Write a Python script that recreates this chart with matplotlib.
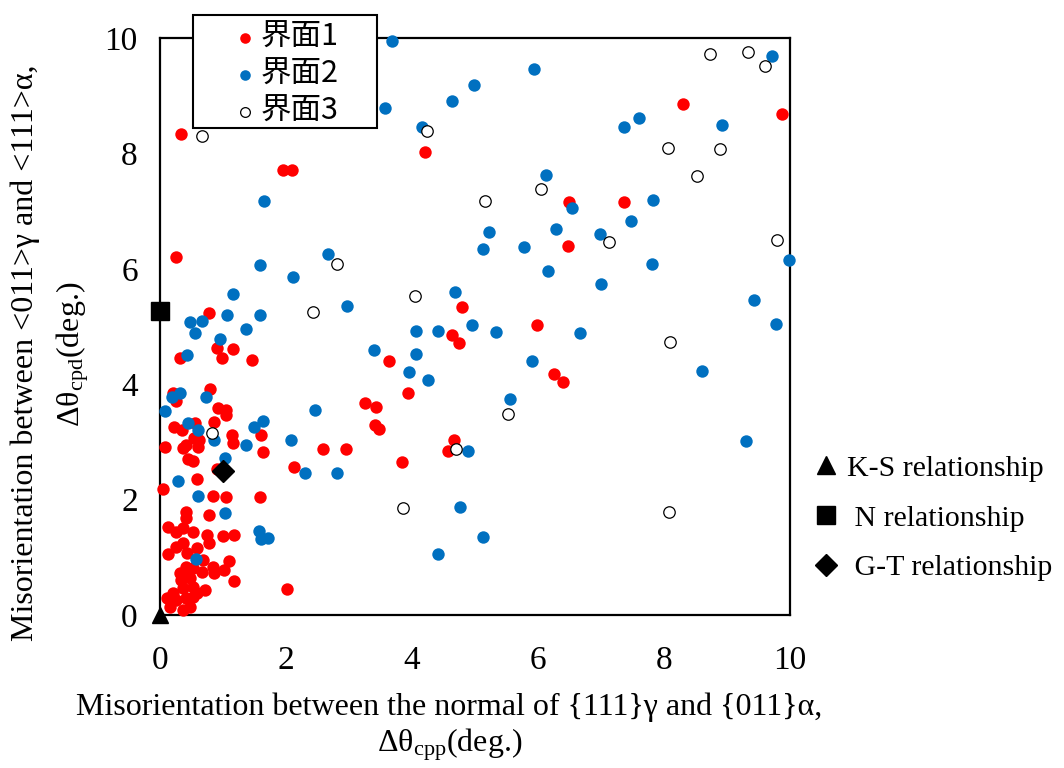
import matplotlib.pyplot as plt
import numpy as np
from matplotlib.lines import Line2D
from matplotlib.patches import Rectangle

plt.rcParams['font.family'] = ['Liberation Serif', 'DejaVu Serif']
plt.rcParams['mathtext.fontset'] = 'custom'
plt.rcParams['mathtext.rm'] = 'Liberation Serif'
plt.rcParams['mathtext.it'] = 'Liberation Serif:italic'

RED = '#FF0000'
BLUE = '#0070C0'
FS = 23

# interface 1 (x = dtheta_cpp, y = dtheta_cpd), degrees
if1_x = [0.34, 1.96, 2.09, 0.25, 0.77, 0.90, 1.16, 0.98, 1.46, 0.32,
         4.20, 8.30, 9.88, 6.49, 7.36, 6.47, 4.80,
         4.64, 4.75, 5.98, 3.63, 6.25, 6.40, 3.93, 3.25, 3.43, 3.41, 3.47, 2.58, 2.96, 4.67, 4.57, 3.84, 2.13,
         0.21, 0.25, 0.79, 0.92, 1.04, 1.05, 0.86, 0.56, 0.22, 0.35, 1.15, 1.16, 1.61, 1.64, 0.54, 0.62,
         0.61, 0.08, 0.37, 0.42, 0.44, 0.52, 0.90, 0.58, 0.04, 0.84, 1.05, 1.58, 0.77, 0.41, 0.41, 0.13,
         0.26, 0.37, 0.53, 0.74, 0.77, 1.00, 1.17, 0.13, 0.26, 0.37, 0.43, 0.58, 0.69, 0.84, 1.10, 1.02,
         0.85, 0.66, 0.53, 0.37, 0.34, 0.48, 1.17, 2.01, 0.71, 0.53, 0.37, 0.21, 0.11, 0.26, 0.42, 0.53,
         0.16, 0.37, 0.48, 0.58, 0.32, 0.42]
if1_y = [8.34, 7.71, 7.72, 6.20, 5.23, 4.62, 4.61, 4.45, 4.42, 4.45,
         8.03, 8.86, 8.68, 7.16, 7.15, 6.40, 5.34,
         4.86, 4.72, 5.02, 4.40, 4.17, 4.04, 3.85, 3.68, 3.60, 3.30, 3.22, 2.88, 2.88, 3.04, 2.85, 2.66, 2.57,
         3.85, 3.71, 3.91, 3.58, 3.55, 3.46, 3.35, 3.32, 3.25, 3.21, 3.12, 2.98, 3.12, 2.83, 3.06, 3.03,
         2.91, 2.91, 2.89, 2.95, 2.71, 2.67, 2.53, 2.35, 2.19, 2.06, 2.05, 2.04, 1.73, 1.79, 1.68, 1.53,
         1.44, 1.50, 1.43, 1.39, 1.25, 1.37, 1.39, 1.06, 1.18, 1.24, 1.07, 1.16, 0.95, 0.84, 0.94, 0.78,
         0.73, 0.75, 0.81, 0.72, 0.61, 0.64, 0.59, 0.45, 0.43, 0.49, 0.46, 0.38, 0.29, 0.26, 0.29, 0.32,
         0.14, 0.09, 0.14, 0.38, 0.72, 0.84]

# interface 2
if2_x = [3.68, 9.71, 5.94, 4.99, 4.64, 3.57, 7.60, 7.36, 8.92, 4.16, 6.12, 6.54, 7.82, 7.48, 5.22,
         6.29, 6.98, 5.13, 5.78, 7.81, 6.16, 7.00, 9.98, 4.69, 9.43,
         2.97, 9.78, 4.07, 4.42, 4.95, 5.33, 6.67, 3.40, 4.07, 3.96, 4.25, 5.90, 8.60, 5.55, 2.46,
         2.08, 4.89, 9.30, 2.30, 2.81, 4.76, 5.12, 4.41,
         1.65, 2.67, 1.58, 2.11, 1.16, 1.07, 1.59, 0.48, 0.66, 0.56, 1.37, 0.96, 0.43,
         0.19, 0.32, 0.73, 0.08, 0.45, 0.61, 0.86, 1.49, 1.63, 1.37, 1.03, 0.29, 0.61, 1.03, 1.57,
         1.60, 1.72, 0.57]
if2_y = [9.95, 9.69, 9.47, 9.18, 8.90, 8.78, 8.62, 8.46, 8.50, 8.45, 7.63, 7.06, 7.20, 6.82, 6.63,
         6.69, 6.60, 6.34, 6.38, 6.09, 5.96, 5.74, 6.15, 5.59, 5.46,
         5.35, 5.05, 4.93, 4.93, 5.03, 4.90, 4.88, 4.60, 4.53, 4.22, 4.07, 4.40, 4.23, 3.75, 3.55,
         3.04, 2.85, 3.01, 2.46, 2.46, 1.88, 1.35, 1.05,
         7.17, 6.26, 6.07, 5.85, 5.56, 5.20, 5.20, 5.08, 5.10, 4.89, 4.95, 4.79, 4.51,
         3.78, 3.84, 3.77, 3.53, 3.33, 3.21, 3.03, 3.25, 3.37, 2.94, 2.72, 2.33, 2.07, 1.76, 1.46,
         1.31, 1.33, 0.97]

# interface 3
if3_x = [8.73, 9.33, 9.61, 4.24, 8.07, 8.89, 8.52, 6.05, 5.16, 7.12, 9.80, 4.05, 0.67, 2.81,
         2.43, 8.09, 5.52, 4.70, 0.82, 3.86, 8.08]
if3_y = [9.73, 9.75, 9.52, 8.39, 8.09, 8.08, 7.61, 7.38, 7.17, 6.47, 6.50, 5.53, 8.30, 6.08,
         5.25, 4.73, 3.48, 2.87, 3.15, 1.85, 1.79]

# orientation relationships
or_names = ['K-S relationship', ' N relationship', ' G-T relationship']
or_markers = ['^', 's', 'D']
or_x = [0.0, 0.0, 1.0]
or_y = [0.0, 5.26, 2.5]
or_size = [12, 12.5, 11]

fig = plt.figure(figsize=(10.64, 7.68), dpi=100)
ax = fig.add_axes([160 / 1064, 1 - 615 / 768, 630 / 1064, 577 / 768])

s = 80
h1 = ax.scatter(if1_x, if1_y, s=s, color=RED, lw=0, clip_on=False, zorder=3, label='界面1')
h2 = ax.scatter(if2_x, if2_y, s=s, color=BLUE, lw=0, clip_on=False, zorder=3, label='界面2')
h3 = ax.scatter(if3_x, if3_y, s=s * 0.85, facecolor='white', edgecolor='black', lw=0.9,
                clip_on=False, zorder=3, label='界面3')
for x, y, m, ms in zip(or_x, or_y, or_markers, or_size):
    ax.plot(x, y, marker=m, color='black', ms=ms, ls='none', clip_on=False, zorder=5)

ax.set_xlim(0, 10)
ax.set_ylim(0, 10)
ax.set_xticks(np.arange(0, 11, 2))
ax.set_yticks(np.arange(0, 11, 2))
ax.tick_params(length=0, labelsize=24)
ax.tick_params(axis='x', pad=22)
ax.tick_params(axis='y', pad=16)
for sp in ax.spines.values():
    sp.set_linewidth(1.6)

# series legend: white box sitting over the top edge of the axes
box = Rectangle((193 / 1064, 1 - 128 / 768), 184 / 1064, 113 / 768, transform=fig.transFigure,
                facecolor='white', edgecolor='black', lw=1.5, zorder=9)
fig.add_artist(box)
leg = fig.legend(handles=[h1, h2, h3], loc='upper left', bbox_to_anchor=(230 / 1064, 1 - 22 / 768),
                 frameon=False, markerscale=0.85, handletextpad=0.0, labelspacing=0.2,
                 borderpad=0, borderaxespad=0, handlelength=1.0,
                 prop={'family': ['Noto Sans CJK JP', 'DejaVu Sans'], 'size': 22})
leg.set_zorder(10)

or_handles = [Line2D([], [], marker=m, color='black', ls='none', ms=ms * 1.05)
              for m, ms in zip(or_markers, or_size)]
fig.legend(or_handles, or_names, loc='upper left', bbox_to_anchor=(813 / 1064, 1 - 455 / 768),
           frameon=False, fontsize=21.5, handletextpad=0.25, labelspacing=0.76, handlelength=0.9,
           borderpad=0, borderaxespad=0)

fig.text(449 / 1064, 1 - 707 / 768, r'Misorientation between the normal of {111}γ and {011}α,',
         ha='center', va='center', fontsize=FS)
fig.text(450 / 1064, 1 - 745 / 768, r'Δθ$_\mathrm{cpp}$(deg.)', ha='center', va='center', fontsize=FS)
fig.text(25 / 1064, 1 - 353 / 768, r'Misorientation between <011>γ and <111>α,',
         ha='center', va='center', rotation=90, fontsize=FS)
fig.text(73 / 1064, 1 - 354 / 768, r'Δθ$_\mathrm{cpd}$(deg.)', ha='center', va='center',
         rotation=90, fontsize=FS)

fig.savefig('out.png', dpi=100)
